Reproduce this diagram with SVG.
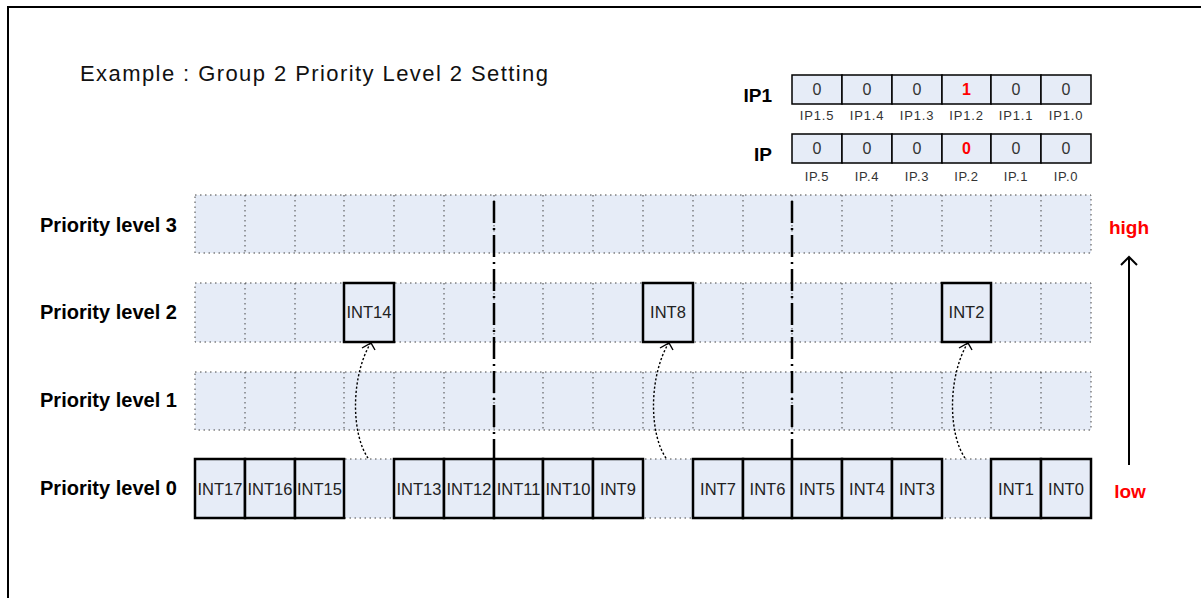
<svg xmlns="http://www.w3.org/2000/svg" width="1201" height="598" viewBox="0 0 1201 598">
<style>
.bg{fill:#ffffff}
.frame{fill:none;stroke:#000;stroke-width:2}
.cellrow{fill:#E6ECF7;stroke:#444;stroke-width:1;stroke-dasharray:1.5 3.5}
.dot{stroke:#444;stroke-width:1;stroke-dasharray:1.5 3.5;fill:none}
.box{fill:#E6ECF7;stroke:#000;stroke-width:2.5}
.reg{fill:#E6ECF7;stroke:#000;stroke-width:1.5}
.int{font-family:"Liberation Sans",Arial,sans-serif;font-size:16.5px;fill:#222;text-anchor:middle}
.lvl{font-family:"Liberation Sans",Arial,sans-serif;font-size:19.5px;font-weight:bold;fill:#000}
.title{font-family:"Liberation Sans",Arial,sans-serif;font-size:22px;fill:#111}
.val{font-family:"Liberation Sans",Arial,sans-serif;font-size:16px;fill:#333;text-anchor:middle}
.valr{font-family:"Liberation Sans",Arial,sans-serif;font-size:16px;font-weight:bold;fill:#FF0000;text-anchor:middle}
.bit{font-family:"Liberation Sans",Arial,sans-serif;font-size:13px;letter-spacing:0.8px;fill:#333;text-anchor:middle}
.regname{font-family:"Liberation Sans",Arial,sans-serif;font-size:19px;font-weight:bold;fill:#000;text-anchor:end}
.hl{font-family:"Liberation Sans",Arial,sans-serif;font-size:19px;font-weight:bold;fill:#FF0000;text-anchor:middle}
.sep{stroke:#000;stroke-width:2.5;stroke-dasharray:22 5 2 5;fill:none}
.curve{fill:none;stroke:#000;stroke-width:1.4;stroke-dasharray:2.2 2}
.head{fill:none;stroke:#000;stroke-width:1.4}
.axis{stroke:#000;stroke-width:2;fill:none}
</style>
<rect class="bg" x="0" y="0" width="1201" height="598"/>
<rect class="frame" x="8" y="7" width="1210" height="610"/>

<text id="title" class="title" x="80" y="81" textLength="468" lengthAdjust="spacing">Example : Group 2 Priority Level 2 Setting</text>

<g id="reg-IP1">
  <text class="regname" x="772" y="102">IP1</text>
  <rect class="reg" x="792" y="75" width="50" height="29"/>
  <rect class="reg" x="842" y="75" width="50" height="29"/>
  <rect class="reg" x="892" y="75" width="50" height="29"/>
  <rect class="reg" x="942" y="75" width="49" height="29"/>
  <rect class="reg" x="991" y="75" width="50" height="29"/>
  <rect class="reg" x="1041" y="75" width="50" height="29"/>
  <text class="val" x="817" y="95">0</text>
  <text class="val" x="867" y="95">0</text>
  <text class="val" x="917" y="95">0</text>
  <text class="valr" x="966.5" y="95">1</text>
  <text class="val" x="1016" y="95">0</text>
  <text class="val" x="1066" y="95">0</text>
  <text class="bit" x="817" y="120">IP1.5</text>
  <text class="bit" x="867" y="120">IP1.4</text>
  <text class="bit" x="917" y="120">IP1.3</text>
  <text class="bit" x="966.5" y="120">IP1.2</text>
  <text class="bit" x="1016" y="120">IP1.1</text>
  <text class="bit" x="1066" y="120">IP1.0</text>
</g>

<g id="reg-IP">
  <text class="regname" x="772" y="161">IP</text>
  <rect class="reg" x="792" y="134" width="50" height="29"/>
  <rect class="reg" x="842" y="134" width="50" height="29"/>
  <rect class="reg" x="892" y="134" width="50" height="29"/>
  <rect class="reg" x="942" y="134" width="49" height="29"/>
  <rect class="reg" x="991" y="134" width="50" height="29"/>
  <rect class="reg" x="1041" y="134" width="50" height="29"/>
  <text class="val" x="817" y="154">0</text>
  <text class="val" x="867" y="154">0</text>
  <text class="val" x="917" y="154">0</text>
  <text class="valr" x="966.5" y="154">0</text>
  <text class="val" x="1016" y="154">0</text>
  <text class="val" x="1066" y="154">0</text>
  <text class="bit" x="817" y="181">IP.5</text>
  <text class="bit" x="867" y="181">IP.4</text>
  <text class="bit" x="917" y="181">IP.3</text>
  <text class="bit" x="966.5" y="181">IP.2</text>
  <text class="bit" x="1016" y="181">IP.1</text>
  <text class="bit" x="1066" y="181">IP.0</text>
</g>

<g id="level3">
  <text class="lvl" x="40" y="232" textLength="137" lengthAdjust="spacingAndGlyphs">Priority level 3</text>
  <rect class="cellrow" x="195" y="195" width="896" height="58"/>
  <path class="dot" d="M245,195V253M295,195V253M344,195V253M394,195V253M444,195V253M494,195V253M543,195V253M593,195V253M643,195V253M693,195V253M743,195V253M792,195V253M842,195V253M892,195V253M942,195V253M991,195V253M1041,195V253"/>
</g>

<g id="level2">
  <text class="lvl" x="40" y="319" textLength="137" lengthAdjust="spacingAndGlyphs">Priority level 2</text>
  <rect class="cellrow" x="195" y="283" width="896" height="59"/>
  <path class="dot" d="M245,283V342M295,283V342M344,283V342M394,283V342M444,283V342M494,283V342M543,283V342M593,283V342M643,283V342M693,283V342M743,283V342M792,283V342M842,283V342M892,283V342M942,283V342M991,283V342M1041,283V342"/>
</g>

<g id="INT14"><rect class="box" x="344" y="283" width="50" height="59"/><text class="int" x="369" y="318">INT14</text></g>
<g id="INT8"><rect class="box" x="643" y="283" width="50" height="59"/><text class="int" x="668" y="318">INT8</text></g>
<g id="INT2"><rect class="box" x="942" y="283" width="49" height="59"/><text class="int" x="966.5" y="318">INT2</text></g>

<g id="level1">
  <text class="lvl" x="40" y="407" textLength="137" lengthAdjust="spacingAndGlyphs">Priority level 1</text>
  <rect class="cellrow" x="195" y="372" width="896" height="58"/>
  <path class="dot" d="M245,372V430M295,372V430M344,372V430M394,372V430M444,372V430M494,372V430M543,372V430M593,372V430M643,372V430M693,372V430M743,372V430M792,372V430M842,372V430M892,372V430M942,372V430M991,372V430M1041,372V430"/>
</g>

<g id="level0">
  <text class="lvl" x="40" y="495" textLength="137" lengthAdjust="spacingAndGlyphs">Priority level 0</text>
  <rect class="cellrow" x="195" y="459" width="896" height="59"/>
</g>
<g id="INT17"><rect class="box" x="195" y="459" width="50" height="59"/><text class="int" x="220" y="495">INT17</text></g>
<g id="INT16"><rect class="box" x="245" y="459" width="50" height="59"/><text class="int" x="270" y="495">INT16</text></g>
<g id="INT15"><rect class="box" x="295" y="459" width="49" height="59"/><text class="int" x="319.5" y="495">INT15</text></g>
<g id="INT13"><rect class="box" x="394" y="459" width="50" height="59"/><text class="int" x="419" y="495">INT13</text></g>
<g id="INT12"><rect class="box" x="444" y="459" width="50" height="59"/><text class="int" x="469" y="495">INT12</text></g>
<g id="INT11"><rect class="box" x="494" y="459" width="49" height="59"/><text class="int" x="518.5" y="495">INT11</text></g>
<g id="INT10"><rect class="box" x="543" y="459" width="50" height="59"/><text class="int" x="568" y="495">INT10</text></g>
<g id="INT9"><rect class="box" x="593" y="459" width="50" height="59"/><text class="int" x="618" y="495">INT9</text></g>
<g id="INT7"><rect class="box" x="693" y="459" width="50" height="59"/><text class="int" x="718" y="495">INT7</text></g>
<g id="INT6"><rect class="box" x="743" y="459" width="49" height="59"/><text class="int" x="767.5" y="495">INT6</text></g>
<g id="INT5"><rect class="box" x="792" y="459" width="50" height="59"/><text class="int" x="817" y="495">INT5</text></g>
<g id="INT4"><rect class="box" x="842" y="459" width="50" height="59"/><text class="int" x="867" y="495">INT4</text></g>
<g id="INT3"><rect class="box" x="892" y="459" width="50" height="59"/><text class="int" x="917" y="495">INT3</text></g>
<g id="INT1"><rect class="box" x="991" y="459" width="50" height="59"/><text class="int" x="1016" y="495">INT1</text></g>
<g id="INT0"><rect class="box" x="1041" y="459" width="50" height="59"/><text class="int" x="1066" y="495">INT0</text></g>

<g id="group-separators">
  <path class="sep" d="M494,201V459"/>
  <path class="sep" d="M792,201V459"/>
</g>

<g id="connectors">
  <path class="curve" d="M368,458 C352,435 350,380 370,344"/>
  <polyline class="head" points="362,348 371,343 375,350"/>
  <path class="curve" d="M666,458 C650,435 648,380 668,344"/>
  <polyline class="head" points="660,348 669,343 673,350"/>
  <path class="curve" d="M965,458 C949,435 947,380 967,344"/>
  <polyline class="head" points="959,348 968,343 972,350"/>
</g>

<g id="priority-axis">
  <text class="hl" x="1129" y="234">high</text>
  <path class="axis" d="M1129,465V257"/>
  <polyline class="axis" points="1121,265 1129,257 1137,265"/>
  <text class="hl" x="1130" y="498">low</text>
</g>
</svg>
